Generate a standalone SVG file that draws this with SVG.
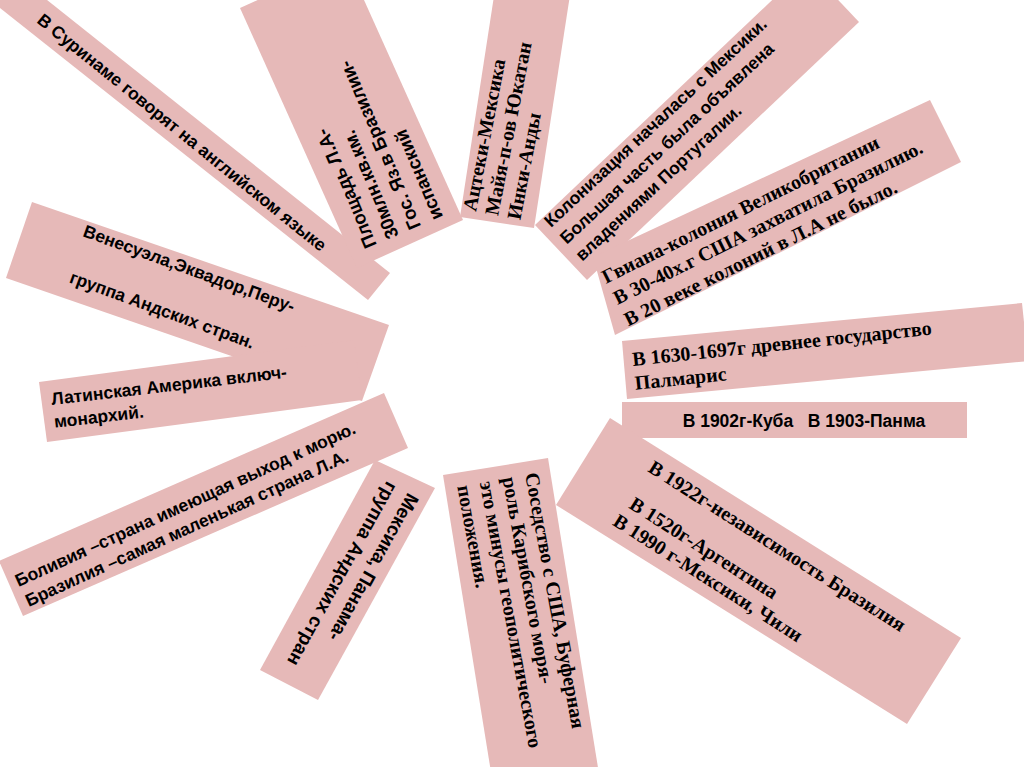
<svg xmlns="http://www.w3.org/2000/svg" width="1024" height="767" viewBox="0 0 1024 767">
<style>
.s{fill:#E6B9B8}
.t{font-family:"Liberation Sans",Arial,sans-serif;font-weight:bold;font-size:17.5px;fill:#000}
.r{font-family:"Liberation Serif","Times New Roman",serif;font-weight:bold;font-size:20px;fill:#000}
</style>
<rect width="1024" height="767" fill="#fff"/>
<g id="n1">
<polygon class="s" points="-17,-51 390,273 368,300 -39,-23"/>
<text class="t" transform="translate(36,22) rotate(39)">В Суринаме говорят на английском языке</text>
</g>
<g id="n2">
<polygon class="s" points="240,8 346,-40 463,220 357,268"/>
<text class="t" style="font-size:18.5px" transform="translate(377,245) rotate(-113)"><tspan x="0" y="0">Площадь Л.А-</tspan><tspan x="0" y="24">30млн.кв.км.</tspan><tspan x="0" y="48">Гос. Яз.в Бразилии-</tspan><tspan x="0" y="72">испанский</tspan></text>
</g>
<g id="n3">
<polygon class="s" points="498,-30 572,-18 534,228 460,217"/>
<text class="r" transform="translate(476,212) rotate(-79)"><tspan x="0" y="0">Ацтеки-Мексика</tspan><tspan x="0" y="22.5">Майя-п-ов Юкатан</tspan><tspan x="0" y="45">Инки-Анды</tspan></text>
</g>
<g id="n4">
<polygon class="s" points="535,225 807,-33 859,22 587,280"/>
<text class="t" transform="translate(551,228) rotate(-43)"><tspan x="0" y="0">Колонизация началась с Мексики.</tspan><tspan x="0" y="23">Большая часть была объявлена</tspan><tspan x="0" y="46">владениями Португалии.</tspan></text>
</g>
<g id="n5">
<polygon class="s" points="593,257 930,100 961,162 615,335"/>
<text class="r" transform="translate(606,284) rotate(-26.5)"><tspan x="0" y="0">Гвиана-колония Великобритании</tspan><tspan x="1" y="24">В 30-40х.г США захватила Бразилию.</tspan><tspan x="1" y="48">В 20 веке колоний в Л.А не было.</tspan></text>
</g>
<g id="n6">
<polygon class="s" points="622,341 1022,303 1028,361 627,399"/>
<text class="r" transform="translate(633,366) rotate(-6)"><tspan x="0" y="0">В 1630-1697г древнее государство</tspan><tspan x="0" y="24">Палмарис</tspan></text>
</g>
<g id="n7">
<rect class="s" x="622" y="402" width="345" height="36"/>
<text class="t" x="804" y="427" text-anchor="middle" xml:space="preserve" style="white-space:pre">В 1902г-Куба   В 1903-Панма</text>
</g>
<g id="n8">
<polygon class="s" points="610,418 961,638 907,724 556,505"/>
<text class="r" transform="translate(647,471) rotate(32.5)"><tspan x="0" y="0">В 1922г-независимость Бразилия</tspan><tspan x="3.5" y="41">В 1520г-Аргентина</tspan><tspan x="-1" y="64">В 1990 г-Мексики, Чили</tspan></text>
</g>
<g id="n9">
<polygon class="s" points="443,475 548,458 600,780 495,797"/>
<text class="r" transform="translate(525,474) rotate(79.5)"><tspan x="0" y="0">Соседство с США, Буферная</tspan><tspan x="0" y="23">роль Карибского моря-</tspan><tspan x="0" y="46">это минусы геополитического</tspan><tspan x="0" y="69">положения.</tspan></text>
</g>
<g id="n10">
<polygon class="s" points="375,460 435,488 318,700 260,670"/>
<text class="t" style="font-size:19px" transform="translate(408,492) rotate(119)"><tspan x="0" y="0">Мексика, Панама-</tspan><tspan x="0" y="24">группа Андских стран</tspan></text>
</g>
<g id="n11">
<polygon class="s" points="-1,561 384,393 408,448 23,616"/>
<text class="t" transform="translate(18.5,587) rotate(-24.5)"><tspan x="0" y="0">Боливия –страна имеющая выход к морю.</tspan><tspan x="1" y="22.4">Бразилия –самая маленькая страна Л.А.</tspan></text>
</g>
<g id="n13">
<polygon class="s" points="32,202 389,325 362,401 6,278"/>
<text class="t" transform="translate(82,236) rotate(20)"><tspan x="0" y="0">Венесуэла,Эквадор,Перу-</tspan><tspan x="3" y="48">группа Андских стран.</tspan></text>
</g>
<g id="n12">
<polygon class="s" points="39,382 354,340 362,400 47,442"/>
<text class="t" transform="translate(52,405) rotate(-6.6)"><tspan x="0" y="0">Латинская Америка включ-</tspan><tspan x="0" y="23">монархий.</tspan></text>
</g>
</svg>
